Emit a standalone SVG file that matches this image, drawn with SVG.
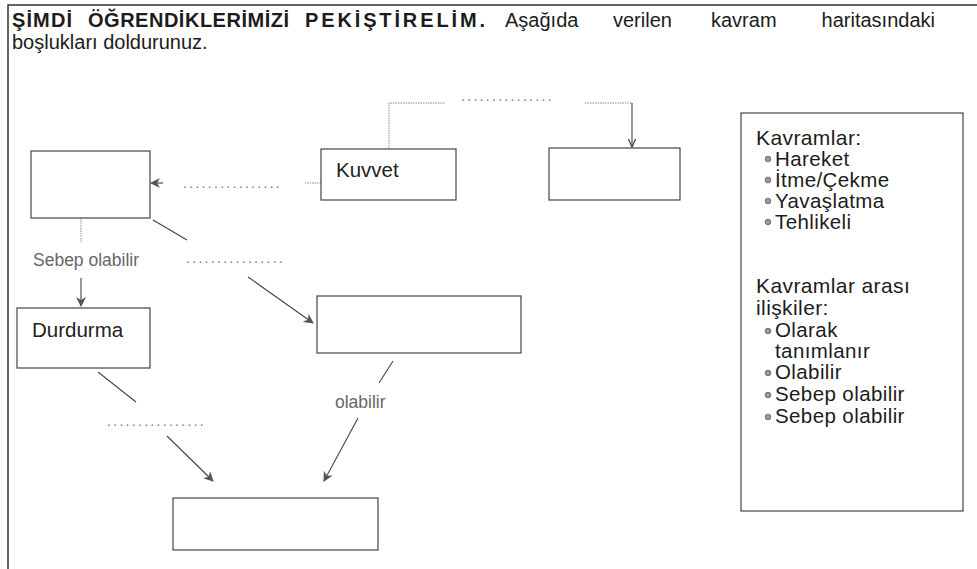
<svg xmlns="http://www.w3.org/2000/svg" width="977" height="569" viewBox="0 0 977 569">
  <style>
    text { font-family: "Liberation Sans", Arial, sans-serif; fill: #1c1c1c; }
    .title-b { font-size: 20px; font-weight: bold; }
    .title { font-size: 20px; }
    .box { fill: #ffffff; stroke: #444; stroke-width: 1.2; }
    .label { font-size: 20.5px; fill: #222; }
    .small { font-size: 17.5px; fill: #666; }
    .dots { font-size: 14px; fill: #777; letter-spacing: 2.3px; }
    .edge { fill: none; stroke: #444; stroke-width: 1.1; }
    .edge-light { fill: none; stroke: #8a8a8a; stroke-width: 1; stroke-dasharray: 1.5 1; }
    .panel-h { font-size: 21px; letter-spacing: 0.4px; }
    .panel-i { font-size: 20.5px; letter-spacing: 0.4px; }
    .bullet { fill: #999; stroke: #555; stroke-width: 0.8; }
  </style>
  <defs>
    <marker id="arrow" viewBox="0 0 10 10" refX="9" refY="5" markerWidth="10" markerHeight="10" orient="auto" markerUnits="userSpaceOnUse">
      <path d="M0,0 L10,5 L0,10 L3,5 z" fill="#555"/>
    </marker>
    <marker id="vee" viewBox="0 0 10 10" refX="9" refY="5" markerWidth="9" markerHeight="9" orient="auto" markerUnits="userSpaceOnUse">
      <path d="M0,1 L9,5 L0,9" fill="none" stroke="#444" stroke-width="1.4"/>
    </marker>
  </defs>

  <!-- frame -->
  <path d="M8,569 L8,5 L977,5" fill="none" stroke="#333" stroke-width="1.5"/>

  <!-- heading (justified first line) -->
  <g id="heading">
    <text class="title-b" x="12" y="27" textLength="60" lengthAdjust="spacing">ŞİMDİ</text>
    <text class="title-b" x="88" y="27" textLength="201" lengthAdjust="spacing">ÖĞRENDİKLERİMİZİ</text>
    <text class="title-b" x="305" y="27" textLength="180" lengthAdjust="spacing">PEKİŞTİRELİM.</text>
    <text class="title" x="505" y="27">Aşağıda</text>
    <text class="title" x="613" y="27">verilen</text>
    <text class="title" x="711" y="27">kavram</text>
    <text class="title" x="935" y="27" text-anchor="end">haritasındaki</text>
    <text class="title" x="12" y="49">boşlukları doldurunuz.</text>
  </g>

  <!-- connectors -->
  <g id="connectors">
    <!-- Kuvvet to top-right box -->
    <path class="edge-light" d="M389,149 L389,103 L445,103"/>
    <text class="dots" x="461" y="101">...............</text>
    <path class="edge-light" d="M585,103 L632,103"/>
    <path class="edge" d="M632,103 L632,147" marker-end="url(#vee)"/>

    <!-- Kuvvet to box A -->
    <path class="edge-light" d="M321,183 L305,183"/>
    <text class="dots" x="183" y="188">................</text>
    <path class="edge" d="M163,183 L151,183" marker-end="url(#arrow)"/>

    <!-- box A to Durdurma -->
    <path class="edge-light" d="M81,218 L81,242"/>
    <text class="small" x="33" y="266">Sebep olabilir</text>
    <path class="edge" d="M81,278 L81,306" marker-end="url(#arrow)"/>

    <!-- box A to box B -->
    <path class="edge" d="M153,220 L187,240"/>
    <text class="dots" x="186" y="263">................</text>
    <path class="edge" d="M248,277 L313,323" marker-end="url(#arrow)"/>

    <!-- box B to bottom box -->
    <path class="edge" d="M393,361 L379,383"/>
    <text class="small" x="335" y="408">olabilir</text>
    <path class="edge" d="M358,418 L324,481" marker-end="url(#arrow)"/>

    <!-- Durdurma to bottom box -->
    <path class="edge" d="M98,372 L136,402"/>
    <text class="dots" x="107" y="426">................</text>
    <path class="edge" d="M167,436 L213,481" marker-end="url(#arrow)"/>
  </g>

  <!-- nodes -->
  <g id="node-a"><rect class="box" x="31" y="151" width="119" height="67"/></g>
  <g id="node-kuvvet">
    <rect class="box" x="321" y="149" width="135" height="51"/>
    <text class="label" x="336" y="177">Kuvvet</text>
  </g>
  <g id="node-c"><rect class="box" x="549" y="148" width="131" height="52"/></g>
  <g id="node-durdurma">
    <rect class="box" x="17" y="308" width="133" height="60"/>
    <text class="label" x="32" y="337">Durdurma</text>
  </g>
  <g id="node-b"><rect class="box" x="317" y="296" width="204" height="57"/></g>
  <g id="node-d"><rect class="box" x="173" y="498" width="205" height="52"/></g>

  <!-- legend panel -->
  <g id="legend">
    <rect class="box" x="741" y="113" width="222" height="398"/>
    <text class="panel-h" x="756" y="145">Kavramlar:</text>
    <circle class="bullet" cx="768" cy="159" r="2.8"/>
    <text class="panel-i" x="775" y="166">Hareket</text>
    <circle class="bullet" cx="768" cy="180" r="2.8"/>
    <text class="panel-i" x="775" y="187">İtme/Çekme</text>
    <circle class="bullet" cx="768" cy="201" r="2.8"/>
    <text class="panel-i" x="775" y="208">Yavaşlatma</text>
    <circle class="bullet" cx="768" cy="222" r="2.8"/>
    <text class="panel-i" x="775" y="229">Tehlikeli</text>

    <text class="panel-h" x="756" y="293">Kavramlar arası</text>
    <text class="panel-h" x="756" y="315">ilişkiler:</text>
    <circle class="bullet" cx="768" cy="331" r="2.8"/>
    <text class="panel-i" x="775" y="337">Olarak</text>
    <text class="panel-i" x="775" y="358">tanımlanır</text>
    <circle class="bullet" cx="768" cy="373" r="2.8"/>
    <text class="panel-i" x="775" y="379">Olabilir</text>
    <circle class="bullet" cx="768" cy="395" r="2.8"/>
    <text class="panel-i" x="775" y="401">Sebep olabilir</text>
    <circle class="bullet" cx="768" cy="417" r="2.8"/>
    <text class="panel-i" x="775" y="423">Sebep olabilir</text>
  </g>
</svg>
